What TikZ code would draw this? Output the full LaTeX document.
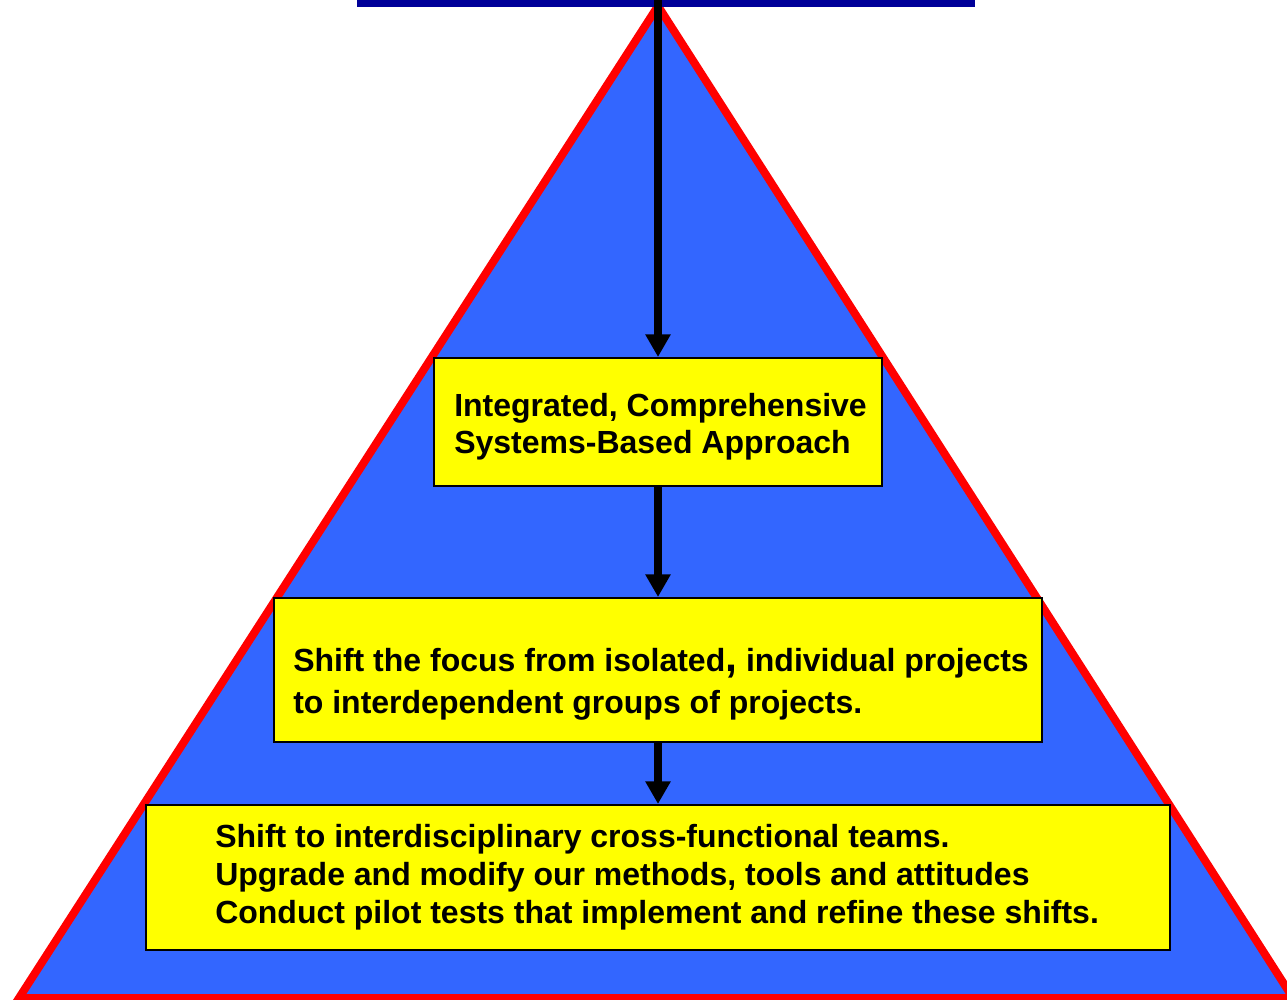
\documentclass[tikz,border=0pt]{standalone}
\usepackage{fontspec}
\setmainfont{Liberation Sans}
\usetikzlibrary{arrows.meta}
\definecolor{pyrblue}{RGB}{51,102,255}
\definecolor{barblue}{RGB}{0,0,153}
\definecolor{boxyellow}{RGB}{255,255,0}
\tikzset{
  box/.style={draw=black, fill=boxyellow, line width=1.5pt, inner sep=0pt},
  boxtext/.style={anchor=west, align=left, inner sep=0pt},
  arr/.style={line width=6pt, -{Triangle[length=17pt,width=18pt]}}
}

\begin{document}
\begin{tikzpicture}[x=0.75pt,y=0.75pt,yscale=-1,xscale=1]
\useasboundingbox (0,0) rectangle (1287,999);

%Triangle
\draw [draw=red, fill=pyrblue, line width=6pt, line join=miter] (658,6) -- (1293,998) -- (19,998) -- cycle;
%Title bar
\node (title) [fill=barblue, inner sep=0pt, minimum width=463.5pt, minimum height=5.25pt, anchor=north west] at (357,0) {};
\coordinate (top) at (658,0);

%Boxes
\node (b1) [box, minimum width=336pt, minimum height=96pt] at (658,422) {};
\node (b2) [box, minimum width=576pt, minimum height=108pt] at (658,670) {};
\node (b3) [box, minimum width=768pt, minimum height=108.75pt] at (658,877.5) {};

% Text Node
\node (t1) [boxtext, font=\fontsize{24}{27.75}\bfseries] at (454,427) {Integrated, Comprehensive\\Systems-Based Approach};
% Text Node
\node (t2) [boxtext, font=\fontsize{24}{31.5}\bfseries] at (293,684) {Shift the focus from isolated{\fontsize{32}{32}\selectfont,} individual projects\\to interdependent groups of projects.};
% Text Node
\node (t3) [boxtext, font=\fontsize{24}{28.5}\bfseries] at (215,877) {Shift to interdisciplinary cross-functional teams.\\Upgrade and modify our methods, tools and attitudes\\Conduct pilot tests that implement and refine these shifts.};

%Arrows
\draw [arr] (top) -- (b1.north);
\draw [arr] (b1.south) -- (b2.north);
\draw [arr] (b2.south) -- (b3.north);

\end{tikzpicture}
\end{document}
